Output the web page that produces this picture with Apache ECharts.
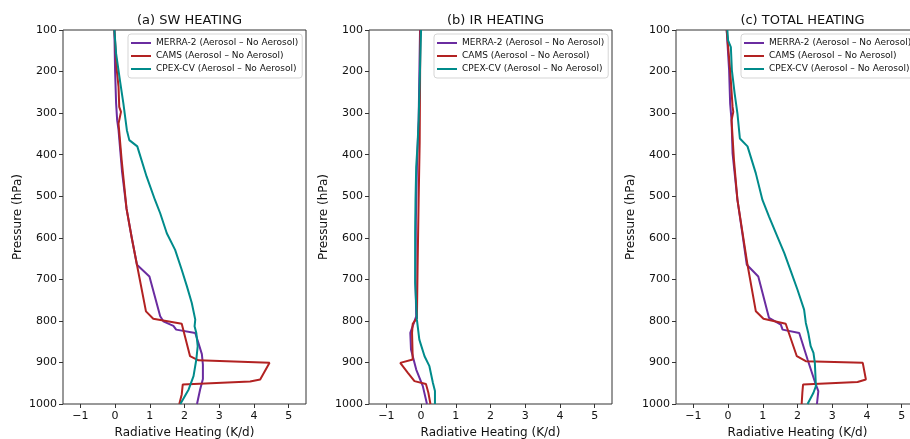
<!DOCTYPE html>
<html>
<head>
<meta charset="utf-8">
<script src="https://cdn.jsdelivr.net/npm/echarts@6/dist/echarts.min.js"></script>
<style>
  html, body { margin: 0; padding: 0; background: #fff; }
  #chart { width: 910px; height: 439px; }
</style>
</head>
<body>
<div id="chart"></div>
<script>
// [heating K/d, pressure hPa] pairs
var swMerra = [[-0.02,100],[0,197],[0.03,277],[0.06,317],[0.1,341],[0.2,440],[0.33,530],[0.48,600],[0.63,665],
    [0.99,693],[1.3,789],[1.39,801],[1.68,812],[1.76,821],[2.31,829],[2.4,853],[2.5,880],[2.53,905],[2.53,940],[2.45,965],[2.36,1000]];
var swCams = [[-0.02,100],[0.05,197],[0.1,237],[0.12,285],[0.17,297],[0.1,325],[0.19,413],[0.33,530],[0.48,600],[0.63,665],
    [0.89,777],[1.1,795],[1.92,807],[2.16,885],[2.4,895],[4.45,901],[4.18,941],[3.89,946],[1.95,953],[1.92,977],[1.85,1000]];
var swCpex = [[-0.02,100],[0.03,157],[0.14,221],[0.24,277],[0.34,341],[0.41,365],[0.64,380],[0.91,453],[1.15,509],[1.3,541],
    [1.49,589],[1.73,629],[1.92,677],[2.07,717],[2.21,757],[2.31,797],[2.29,813],[2.34,829],[2.38,861],[2.34,893],[2.26,933],[2.12,965],[1.88,1000]];

var irMerra = [[-0.03,100],[-0.07,317],[-0.12,429],[-0.15,557],[-0.16,700],[-0.14,789],[-0.31,829],[-0.29,869],[-0.14,917],[0.05,957],[0.17,1000]];
var irCams = [[-0.02,100],[-0.04,370],[-0.07,509],[-0.1,669],[-0.12,793],[-0.24,807],[-0.29,809],[-0.26,829],[-0.24,893],
    [-0.6,901],[-0.38,925],[-0.19,945],[0.14,952],[0.21,973],[0.27,1000]];
var irCpex = [[0,100],[-0.07,317],[-0.1,373],[-0.14,429],[-0.16,509],[-0.17,589],[-0.17,709],[-0.12,797],[-0.05,845],
    [0.1,885],[0.24,909],[0.34,949],[0.4,969],[0.4,1000]];

var totMerra = [[-0.04,100],[0.03,197],[0.06,277],[0.1,317],[0.13,397],[0.27,509],[0.41,589],[0.54,665],[0.87,693],
    [1.18,793],[1.52,809],[1.57,821],[2.05,829],[2.29,893],[2.51,949],[2.6,969],[2.56,1000]];
var totCams = [[-0.04,100],[0.06,197],[0.13,285],[0.15,297],[0.1,317],[0.17,413],[0.27,509],[0.56,665],[0.8,777],[1.02,795],
    [1.66,807],[1.98,885],[2.24,897],[3.88,901],[3.97,941],[3.73,947],[2.16,953],[2.14,973],[2.12,1000]];
var totCpex = [[-0.02,100],[0,125],[0.08,141],[0.11,197],[0.19,253],[0.27,301],[0.34,361],[0.56,380],[0.8,445],[0.99,509],
    [1.18,549],[1.42,597],[1.62,637],[1.81,681],[2,725],[2.19,773],[2.24,805],[2.31,829],[2.38,861],[2.46,877],[2.5,901],[2.53,957],[2.46,973],[2.29,1000]];

var titles = ['(a) SW HEATING', '(b) IR HEATING', '(c) TOTAL HEATING'];
var names = ['MERRA-2 (Aerosol – No Aerosol)', 'CAMS (Aerosol – No Aerosol)', 'CPEX-CV (Aerosol – No Aerosol)'];
var colors = ['#6a2ca0', '#b22222', '#008b8b'];
var panels = [[swMerra, swCams, swCpex], [irMerra, irCams, irCpex], [totMerra, totCams, totCpex]];
var xTicks = [-1, 0, 1, 2, 3, 4, 5];

var font = 'DejaVu Sans';
var lefts = [63, 369, 676];
var plotW = 243;

var grid = [], xAxis = [], yAxis = [], title = [], legend = [], series = [];

lefts.forEach(function (left, i) {
    grid.push({
        left: left, top: 30, width: plotW, height: 374,
        outerBoundsMode: 'none', containLabel: false,
        show: true, borderColor: '#333', borderWidth: 1, backgroundColor: 'transparent'
    });
    xAxis.push({
        type: 'value', gridIndex: i, min: -1.5, max: 5.5,
        name: 'Radiative Heating (K/d)', nameLocation: 'middle', nameGap: 20,
        nameTextStyle: { fontFamily: font, fontSize: 12, color: '#111' },
        axisLine: { show: false, onZero: false },
        splitLine: { show: false },
        axisTick: { show: true, inside: false, length: 4, lineStyle: { color: '#333' }, customValues: xTicks },
        axisLabel: {
            fontFamily: font, fontSize: 11, color: '#111', margin: 7, customValues: xTicks,
            formatter: function (v) { return v < 0 ? '\u2212' + Math.abs(v) : String(v); }
        }
    });
    yAxis.push({
        type: 'value', gridIndex: i, min: 100, max: 1000, interval: 100, inverse: true,
        name: 'Pressure (hPa)', nameLocation: 'middle', nameGap: 39, nameRotate: 90,
        nameTextStyle: { fontFamily: font, fontSize: 12, color: '#111' },
        axisLine: { show: false, onZero: false },
        splitLine: { show: false },
        axisTick: { show: true, inside: false, length: 4, lineStyle: { color: '#333' } },
        axisLabel: {
            fontFamily: font, fontSize: 11, color: '#111', margin: 6,
            formatter: function (v) { return String(v); }
        }
    });
    title.push({
        text: titles[i], left: left + plotW / 2, top: 9, textAlign: 'center',
        textStyle: { fontFamily: font, fontSize: 13, fontWeight: 'normal', color: '#111' }
    });
    legend.push({
        data: names, orient: 'vertical', left: left + 65, top: 34,
        icon: 'rect', itemWidth: 20, itemHeight: 2, itemGap: 3,
        padding: [4, 4, 4, 3],
        borderColor: '#d5d5d5', borderWidth: 1, borderRadius: 3, backgroundColor: 'rgba(255,255,255,0.85)',
        textStyle: { fontFamily: font, fontSize: 9, color: '#111', lineHeight: 10 },
        selectedMode: false
    });
    panels[i].forEach(function (d, k) {
        series.push({
            name: names[k], type: 'line', xAxisIndex: i, yAxisIndex: i,
            data: d, showSymbol: false, symbol: 'none', animation: false,
            lineStyle: { color: colors[k], width: 2 }, itemStyle: { color: colors[k] },
            clip: true
        });
    });
});

var option = {
    backgroundColor: '#fff',
    animation: false,
    title: title,
    legend: legend,
    grid: grid,
    xAxis: xAxis,
    yAxis: yAxis,
    series: series
};

var myChart = echarts.init(document.getElementById('chart'));
myChart.setOption(option);
</script>
</body>
</html>
